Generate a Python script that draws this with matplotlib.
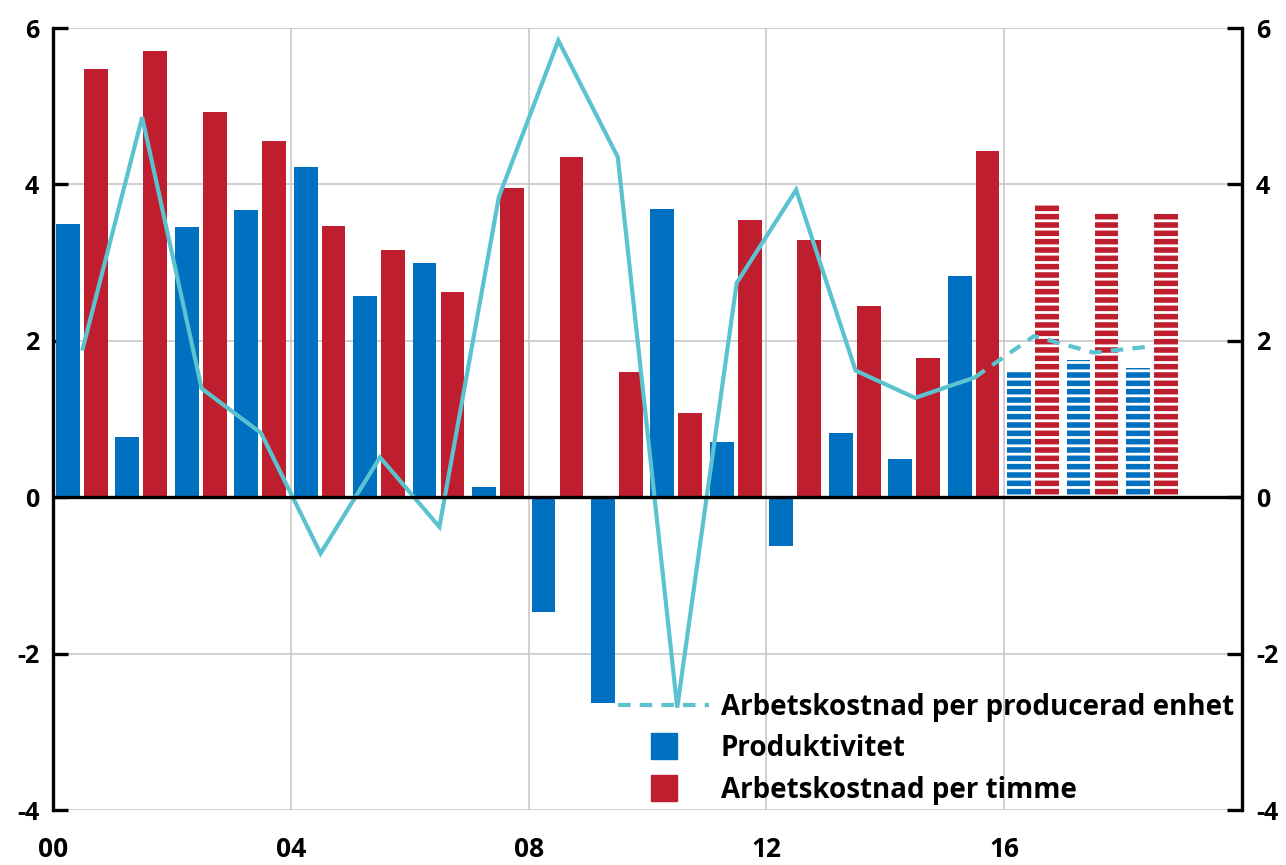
import matplotlib
matplotlib.use("Agg")
import matplotlib.pyplot as plt
from matplotlib.lines import Line2D
import numpy as np

years = list(range(2000, 2019))
produktivitet = [3.49, 0.77, 3.46, 3.67, 4.22, 2.57, 3.00, 0.13, -1.47, -2.63,
                 3.68, 0.70, -0.63, 0.82, 0.49, 2.83, 1.60, 1.75, 1.65]
kostnad_timme = [5.47, 5.70, 4.92, 4.55, 3.47, 3.16, 2.62, 3.96, 4.35, 1.60,
                 1.08, 3.54, 3.29, 2.44, 1.78, 4.43, 3.75, 3.65, 3.62]
kostnad_enhet = [1.90, 4.86, 1.39, 0.82, -0.72, 0.51, -0.38, 3.84, 5.84, 4.35,
                 -2.69, 2.74, 3.93, 1.62, 1.27, 1.53, 2.06, 1.85, 1.93]
first_forecast_year = 2016
xtick_years = [2000, 2004, 2008, 2012, 2016]
xtick_labels = ["00", "04", "08", "12", "16"]
yticks = [-4, -2, 0, 2, 4, 6]
labels = ["Arbetskostnad per producerad enhet", "Produktivitet", "Arbetskostnad per timme"]

BLUE = "#0070C0"
RED = "#BE1E2D"
TEAL = "#5BC2CF"

FONT = ["Open Sans", "DejaVu Sans"]
plt.rcParams["font.family"] = FONT
plt.rcParams["font.weight"] = "bold"
plt.rcParams["axes.unicode_minus"] = False
plt.rcParams["hatch.linewidth"] = 2.0

fig = plt.figure(figsize=(12.86, 8.65), dpi=100)
ax = fig.add_axes([53/1286, 1 - 810/865, (1242-53)/1286, (810-28)/865])

yrs = np.array(years)
fc = yrs >= first_forecast_year
w = 0.40
for mask, hatch in [(~fc, None), (fc, "--")]:
    kw = dict(width=w, zorder=3)
    if hatch:
        kw.update(hatch=hatch, edgecolor="white", linewidth=0)
    ax.bar(yrs[mask] + 0.25, np.array(produktivitet)[mask], color=BLUE, **kw)
    ax.bar(yrs[mask] + 0.72, np.array(kostnad_timme)[mask], color=RED, **kw)

xl = yrs + 0.5
ke = np.array(kostnad_enhet)
n_solid = int((~fc).sum())
LW = 3.0
ax.plot(xl[:n_solid], ke[:n_solid], color=TEAL, lw=LW, zorder=5, solid_joinstyle="miter")
ax.plot(xl[n_solid-1:], ke[n_solid-1:], color=TEAL, lw=LW, ls=(0, (3, 2.2)), zorder=5)

ax.axhline(0, color="black", lw=2.4, zorder=6)

ax.set_xlim(2000, 2020)
ax.set_ylim(-4, 6)
ax.set_yticks(yticks)
ax.set_xticks(xtick_years)
ax.set_xticklabels(xtick_labels)
ax.grid(True, color="#C8C8C8", lw=1.2, zorder=0)
ax.set_axisbelow(True)

for s in ["top", "bottom"]:
    ax.spines[s].set_visible(False)
for s in ["left", "right"]:
    ax.spines[s].set_linewidth(2.4)
    ax.spines[s].set_color("black")

ax.tick_params(axis="y", which="both", direction="in", length=11, width=2.4,
               left=True, right=True, labelleft=True, labelright=True,
               labelsize=18, pad=10)
ax.tick_params(axis="x", length=0, labelsize=19, pad=19)
for lab in ax.get_xticklabels() + ax.get_yticklabels():
    lab.set_fontweight("bold")
for t in ax.yaxis.get_major_ticks():
    t.label2.set_fontweight("bold")

handles = [
    Line2D([], [], color=TEAL, lw=LW, ls=(0, (3, 2.2))),
    Line2D([], [], color=BLUE, marker="s", ms=19, ls="none"),
    Line2D([], [], color=RED, marker="s", ms=19, ls="none"),
]
leg = ax.legend(handles, labels, loc="upper left", bbox_to_anchor=(0.475, 0.150),
                frameon=False, handlelength=3.3, handletextpad=0.4,
                labelspacing=0.45, borderpad=0, borderaxespad=0,
                prop={"family": FONT, "weight": "bold", "size": 20})

fig.savefig("out.png", dpi=100)
